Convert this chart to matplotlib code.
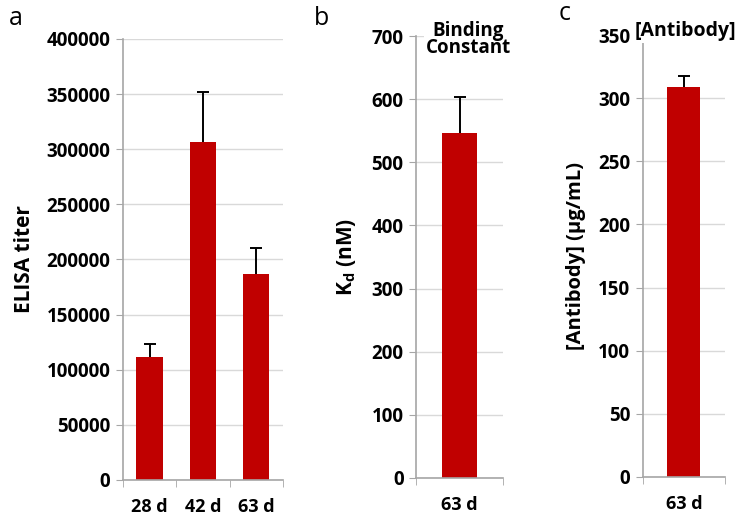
import matplotlib
matplotlib.use("Agg")
import matplotlib.pyplot as plt

plt.rcParams['font.family'] = ['Open Sans', 'DejaVu Sans']
plt.rcParams['font.weight'] = 'bold'
plt.rcParams['axes.labelweight'] = 'bold'
plt.rcParams['mathtext.default'] = 'regular'

# panel a: ELISA titer
days_a = ['28 d', '42 d', '63 d']
titer = [112000, 306500, 187000]
titer_err = [11500, 45000, 23000]

# panel b: binding constant
days_b = ['63 d']
kd = [546]
kd_err = [58]

# panel c: antibody concentration
days_c = ['63 d']
antibody = [309]
antibody_err = [8.5]

red = '#C00000'
axis_gray = '#A6A6A6'
grid_gray = '#D9D9D9'


def style_axes(ax, labels, ymax, step):
    n = len(labels)
    ax.set_xlim(-0.5, n - 0.5)
    ax.set_ylim(0, ymax)
    ax.set_yticks(range(0, ymax + 1, step))
    ax.set_xticks(range(n))
    ax.set_xticklabels(labels, fontsize=13)
    ax.set_xticks([i - 0.5 for i in range(n + 1)], minor=True)
    ax.tick_params(axis='x', which='major', length=0, pad=13)
    ax.tick_params(axis='x', which='minor', length=5, color=axis_gray, direction='out')
    ax.tick_params(axis='y', length=5, color=axis_gray, direction='out', pad=4, labelsize=13.5)
    for s in ['top', 'right']:
        ax.spines[s].set_visible(False)
    for s in ['left', 'bottom']:
        ax.spines[s].set_color(axis_gray)
        ax.spines[s].set_linewidth(1.2)
    ax.yaxis.grid(True, color=grid_gray, linewidth=1)
    ax.set_axisbelow(True)


def up_errors(ax, x, y, err):
    # only the upper half of the error bar, like the Excel original
    _, caps, _ = ax.errorbar(x, y, yerr=[[0] * len(y), err], fmt='none', ecolor='black',
                             elinewidth=1.4, capsize=4, capthick=1.4, zorder=3)
    caps[0].set_visible(False)


fig = plt.figure(figsize=(7.5, 5.17), dpi=100)

ax1 = fig.add_axes([0.164, 0.0716, 0.213, 0.853])
ax1.bar(range(3), titer, width=0.5, color=red, zorder=2)
up_errors(ax1, range(3), titer, titer_err)
style_axes(ax1, days_a, 400000, 50000)
ax1.set_ylabel('ELISA titer', fontsize=15, labelpad=8)

ax2 = fig.add_axes([0.5547, 0.076, 0.116, 0.8538])
ax2.bar(range(1), kd, width=0.4, color=red, zorder=2)
up_errors(ax2, range(1), kd, kd_err)
style_axes(ax2, days_b, 700, 100)
ax2.set_ylabel('K$_d$ (nM)', fontsize=15, labelpad=10)
ax2.text(0.6, 0.993, 'Binding\nConstant', transform=ax2.transAxes, ha='center', va='center',
         fontsize=13.5, linespacing=0.85,
         bbox=dict(facecolor='white', edgecolor='none', pad=1), zorder=5, clip_on=False)

ax3 = fig.add_axes([0.857, 0.078, 0.1097, 0.8537])
ax3.bar(range(1), antibody, width=0.4, color=red, zorder=2)
up_errors(ax3, range(1), antibody, antibody_err)
style_axes(ax3, days_c, 350, 50)
ax3.set_ylabel('[Antibody] (µg/mL)', fontsize=14.5, labelpad=9)
ax3.text(0.52, 1.01, '[Antibody]', transform=ax3.transAxes, ha='center', va='center',
         fontsize=14,
         bbox=dict(facecolor='white', edgecolor='none', pad=1.5), zorder=5, clip_on=False)

fig.text(0.012, 1 - 25 / 517, 'a', fontsize=18, fontweight='normal', va='baseline')
fig.text(0.419, 1 - 25 / 517, 'b', fontsize=18, fontweight='normal', va='baseline')
fig.text(0.745, 1 - 20 / 517, 'c', fontsize=18, fontweight='normal', va='baseline')

fig.savefig('out.png', dpi=100)
